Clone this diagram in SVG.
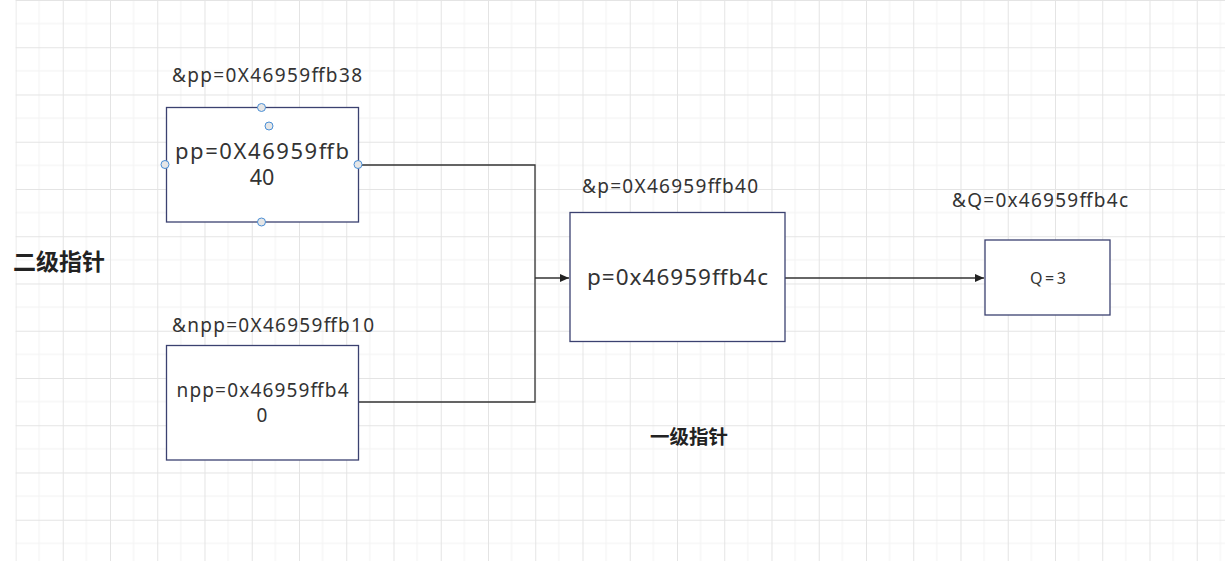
<svg xmlns="http://www.w3.org/2000/svg" width="1225" height="561" viewBox="0 0 1225 561">
  <style>
    .box { fill: #ffffff; stroke: #3b4170; stroke-width: 1.3; }
    .lbl { font-family: "Noto Sans", "Noto Sans CJK SC", sans-serif; fill: #333333; }
    .cjk { font-family: "Noto Sans CJK SC", "Noto Sans", sans-serif; font-weight: bold; fill: #222222; }
    .conn { fill: none; stroke: #333333; stroke-width: 1.3; }
    .handle { fill: #e6e6e6; stroke: #4a8fd6; stroke-width: 1; }
  </style>
  <defs>
    <pattern id="grid" patternUnits="userSpaceOnUse" x="15.5" y="0" width="47.25" height="47.25">
      <line x1="23.6" y1="0" x2="23.6" y2="47.25" stroke="#f2f2f2" stroke-width="1"/>
      <line x1="0" y1="23.6" x2="47.25" y2="23.6" stroke="#f2f2f2" stroke-width="1"/>
      <line x1="0.5" y1="0" x2="0.5" y2="47.25" stroke="#e4e4e4" stroke-width="1"/>
      <line x1="0" y1="0.5" x2="47.25" y2="0.5" stroke="#e4e4e4" stroke-width="1"/>
    </pattern>
    <marker id="arrow" markerWidth="10" markerHeight="10" refX="9" refY="5" orient="auto" markerUnits="userSpaceOnUse">
      <path d="M0,1 L9,5 L0,9 Z" fill="#222222"/>
    </marker>
  </defs>
  <rect x="0" y="0" width="1225" height="561" fill="#ffffff"/>
  <rect x="15.5" y="0" width="1209.5" height="561" fill="url(#grid)"/>

  <g id="connectors">
    <polyline class="conn" points="358,165 535,165 535,278"/>
    <polyline class="conn" points="358,402 535,402 535,278"/>
    <line class="conn" x1="535" y1="278" x2="569" y2="278" marker-end="url(#arrow)"/>
    <line class="conn" x1="785" y1="278" x2="984" y2="278" marker-end="url(#arrow)"/>
  </g>

  <g id="label-level2">
    <text class="cjk" x="13" y="270" font-size="23" textLength="92" lengthAdjust="spacing">二级指针</text>
  </g>
  <g id="label-level1">
    <text class="cjk" x="650" y="444" font-size="19.5" textLength="78" lengthAdjust="spacing">一级指针</text>
  </g>

  <g id="node-pp">
    <text class="lbl" x="172" y="82" font-size="19" textLength="190" lengthAdjust="spacing">&amp;pp=0X46959ffb38</text>
    <rect class="box" x="166.5" y="107.5" width="192" height="114.5"/>
    <text class="lbl" x="262" y="159" font-size="22" text-anchor="middle" textLength="174" lengthAdjust="spacing">pp=0X46959ffb</text>
    <text class="lbl" x="262" y="185" font-size="21.5" text-anchor="middle">40</text>
    <circle class="handle" cx="261.5" cy="107.5" r="4"/>
    <circle class="handle" cx="269" cy="126" r="4"/>
    <circle class="handle" cx="165" cy="164.5" r="4"/>
    <circle class="handle" cx="358" cy="164.5" r="4"/>
    <circle class="handle" cx="261.5" cy="222" r="4"/>
  </g>

  <g id="node-npp">
    <text class="lbl" x="172" y="332" font-size="19" textLength="202" lengthAdjust="spacing">&amp;npp=0X46959ffb10</text>
    <rect class="box" x="166.5" y="345.5" width="192" height="114.5"/>
    <text class="lbl" x="262.5" y="397" font-size="19" text-anchor="middle" textLength="172" lengthAdjust="spacing">npp=0x46959ffb4</text>
    <text class="lbl" x="262" y="422" font-size="19" text-anchor="middle">0</text>
  </g>

  <g id="node-p">
    <text class="lbl" x="582" y="193" font-size="19" textLength="176" lengthAdjust="spacing">&amp;p=0X46959ffb40</text>
    <rect class="box" x="570" y="212.5" width="215" height="129"/>
    <text class="lbl" x="677.5" y="285" font-size="22.5" text-anchor="middle" textLength="181" lengthAdjust="spacing">p=0x46959ffb4c</text>
  </g>

  <g id="node-Q">
    <text class="lbl" x="952" y="207" font-size="19" textLength="176" lengthAdjust="spacing">&amp;Q=0x46959ffb4c</text>
    <rect class="box" x="985" y="240" width="125" height="75"/>
    <text class="lbl" x="1048" y="284" font-size="16" text-anchor="middle" textLength="36" lengthAdjust="spacing">Q=3</text>
  </g>
</svg>
